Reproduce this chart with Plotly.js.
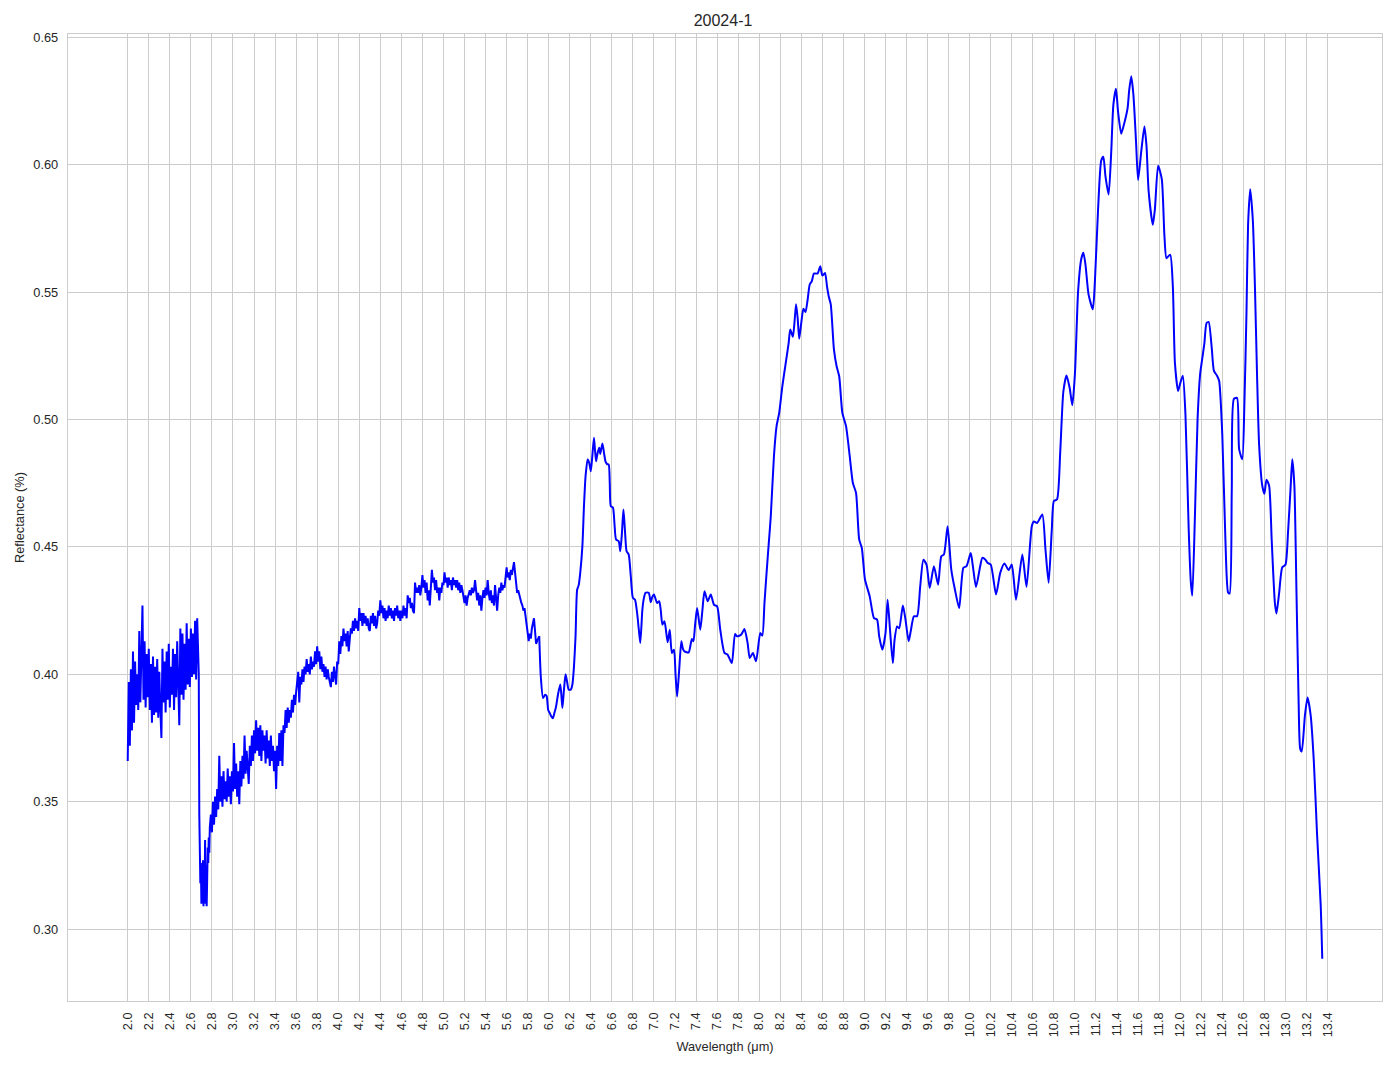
<!DOCTYPE html>
<html>
<head>
<meta charset="utf-8">
<script src="https://cdn.plot.ly/plotly-3.0.1.min.js"></script>
<style>html,body{margin:0;padding:0;background:#fff;}#chart{width:1394px;height:1069px;}</style>
</head>
<body>
<div id="chart"></div>
<script>
// Segment A: 2.00 - 2.67 µm (noisy)
var wlA = [2.00,2.01,2.02,2.03,2.04,2.05,2.06,2.07,2.08,2.09,2.10,2.11,2.12,2.13,2.14,2.15,2.16,2.17,2.18,2.19,
2.20,2.21,2.22,2.23,2.24,2.25,2.26,2.27,2.28,2.29,2.30,2.31,2.32,2.33,2.34,2.35,2.36,2.37,2.38,2.39,
2.40,2.41,2.42,2.43,2.44,2.45,2.46,2.47,2.48,2.49,2.50,2.51,2.52,2.53,2.54,2.55,2.56,2.57,2.58,2.59,
2.60,2.61,2.62,2.63,2.64,2.65,2.66,2.67];
var reflA = [0.366,0.397,0.372,0.402,0.378,0.409,0.381,0.405,0.388,0.400,0.386,0.417,0.389,0.411,0.427,0.390,0.413,0.387,0.408,0.391,
0.410,0.386,0.404,0.381,0.407,0.384,0.403,0.385,0.406,0.383,0.401,0.386,0.375,0.410,0.389,0.405,0.385,0.409,0.390,0.412,
0.387,0.403,0.392,0.410,0.386,0.408,0.391,0.413,0.393,0.380,0.418,0.392,0.416,0.390,0.412,0.394,0.420,0.396,0.414,0.395,
0.418,0.399,0.416,0.400,0.421,0.398,0.422,0.408];

// Segment B: 2.675 - 2.78 µm (sharp drop)
var wlB = [2.675,2.680,2.685,2.690,2.695,2.700,2.705,2.710,2.715,2.720,2.725,2.730,2.735,2.740,2.745,2.750,2.755,2.760,2.765,2.770,2.775,2.780];
var reflB = [0.400,0.345,0.327,0.318,0.326,0.310,0.325,0.312,0.327,0.309,0.322,0.311,0.335,0.310,0.325,0.309,0.320,0.332,0.326,0.336,0.330,0.340];

// Segment C: 2.79 - 3.60 µm (noisy recovery)
var wlC = [2.79,2.80,2.81,2.82,2.83,2.84,2.85,2.86,2.87,2.88,2.89,2.90,2.91,2.92,2.93,2.94,2.95,2.96,2.97,2.98,2.99,
3.00,3.01,3.02,3.03,3.04,3.05,3.06,3.07,3.08,3.09,3.10,3.11,3.12,3.13,3.14,3.15,3.16,3.17,3.18,3.19,
3.20,3.21,3.22,3.23,3.24,3.25,3.26,3.27,3.28,3.29,3.30,3.31,3.32,3.33,3.34,3.35,3.36,3.37,3.38,3.39,
3.40,3.41,3.42,3.43,3.44,3.45,3.46,3.47,3.48,3.49,3.50,3.51,3.52,3.53,3.54,3.55,3.56,3.57,3.58,3.59,3.60];
var reflC = [0.345,0.338,0.350,0.341,0.352,0.344,0.355,0.347,0.368,0.350,0.360,0.348,0.362,0.351,0.358,0.350,0.363,0.352,0.360,0.349,0.362,
0.354,0.373,0.355,0.365,0.352,0.362,0.349,0.366,0.356,0.368,0.359,0.376,0.361,0.370,0.362,0.357,0.372,0.364,0.376,0.366,
0.378,0.369,0.382,0.370,0.379,0.368,0.380,0.366,0.378,0.370,0.376,0.365,0.378,0.367,0.374,0.364,0.376,0.366,0.372,0.362,
0.370,0.355,0.372,0.364,0.377,0.366,0.378,0.364,0.380,0.377,0.386,0.379,0.387,0.381,0.386,0.383,0.390,0.385,0.392,0.388,0.393];

// Segment D: 3.61 - 4.80 µm
var wlD = [3.61,3.62,3.63,3.64,3.65,3.66,3.67,3.68,3.69,3.70,3.71,3.72,3.73,3.74,3.75,3.76,3.77,3.78,3.79,3.80,
3.81,3.82,3.83,3.84,3.85,3.86,3.87,3.88,3.89,3.90,3.91,3.92,3.93,3.94,3.95,3.96,3.97,3.98,3.99,4.00,
4.01,4.02,4.03,4.04,4.05,4.06,4.07,4.08,4.09,4.10,4.11,4.12,4.13,4.14,4.15,4.16,4.17,4.18,4.19,4.20,
4.21,4.22,4.23,4.24,4.25,4.26,4.27,4.28,4.29,4.30,4.31,4.32,4.33,4.34,4.35,4.36,4.37,4.38,4.39,4.40,
4.41,4.42,4.43,4.44,4.45,4.46,4.47,4.48,4.49,4.50,4.51,4.52,4.53,4.54,4.55,4.56,4.57,4.58,4.59,4.60,
4.61,4.62,4.63,4.64,4.65,4.66,4.67,4.68,4.69,4.70,4.71,4.72,4.73,4.74,4.75,4.76,4.77,4.78,4.79,4.80];
var reflD = [0.396,0.401,0.389,0.399,0.396,0.402,0.397,0.403,0.400,0.406,0.401,0.404,0.400,0.407,0.402,0.405,0.403,0.409,0.404,0.411,
0.405,0.409,0.402,0.407,0.401,0.404,0.399,0.403,0.398,0.402,0.399,0.397,0.395,0.401,0.397,0.403,0.398,0.396,0.405,0.404,
0.413,0.408,0.415,0.411,0.418,0.413,0.416,0.411,0.417,0.409,0.414,0.418,0.416,0.421,0.417,0.422,0.418,0.421,0.417,0.426,
0.421,0.424,0.419,0.424,0.420,0.423,0.419,0.422,0.418,0.417,0.423,0.420,0.424,0.419,0.423,0.418,0.420,0.425,0.423,0.429,
0.424,0.427,0.422,0.426,0.421,0.425,0.422,0.427,0.423,0.426,0.422,0.425,0.421,0.426,0.423,0.427,0.422,0.425,0.421,0.425,
0.422,0.427,0.423,0.426,0.422,0.431,0.428,0.430,0.426,0.428,0.425,0.424,0.436,0.432,0.434,0.432,0.435,0.431,0.434,0.439];

// Segment E: 4.81 - 5.91 µm
var wlE = [4.81,4.82,4.83,4.84,4.85,4.86,4.87,4.88,4.89,4.90,4.91,4.92,4.93,4.94,4.95,4.96,4.97,4.98,4.99,5.00,
5.01,5.02,5.03,5.04,5.05,5.06,5.07,5.08,5.09,5.10,5.11,5.12,5.13,5.14,5.15,5.16,5.17,5.18,5.19,5.20,
5.21,5.22,5.23,5.24,5.25,5.26,5.27,5.28,5.29,5.30,5.31,5.32,5.33,5.34,5.35,5.36,5.37,5.38,5.39,5.40,
5.41,5.42,5.43,5.44,5.45,5.46,5.47,5.48,5.49,5.50,5.51,5.52,5.53,5.54,5.55,5.56,5.57,5.58,5.59,5.60,
5.61,5.62,5.63,5.64,5.65,5.66,5.67,5.68,5.69,5.70,5.71,5.72,5.73,5.74,5.75,5.76,5.77,5.78,5.79,5.80,
5.81,5.82,5.83,5.84,5.85,5.86,5.87,5.88,5.89,5.90,5.91];
var reflE = [0.434,0.437,0.432,0.436,0.429,0.433,0.427,0.434,0.441,0.436,0.438,0.433,0.437,0.432,0.434,0.429,0.434,0.432,0.436,0.435,
0.440,0.436,0.438,0.434,0.438,0.435,0.437,0.433,0.438,0.435,0.437,0.434,0.437,0.433,0.436,0.432,0.435,0.433,0.430,0.428,
0.431,0.427,0.430,0.432,0.433,0.431,0.434,0.432,0.433,0.437,0.432,0.429,0.432,0.427,0.431,0.425,0.430,0.433,0.430,0.434,
0.431,0.437,0.432,0.429,0.433,0.428,0.431,0.427,0.435,0.430,0.425,0.431,0.434,0.432,0.436,0.433,0.435,0.434,0.438,0.442,
0.438,0.440,0.437,0.441,0.439,0.442,0.444,0.440,0.434,0.432,0.433,0.431,0.430,0.428,0.427,0.425,0.426,0.423,0.420,0.418,
0.413,0.416,0.414,0.418,0.421,0.422,0.417,0.412,0.413,0.414,0.415];

// Segment F: 5.925 - 13.35 µm (smooth)
var wlF = [5.925,5.946,5.965,5.98,5.995,6.01,6.025,6.04,6.055,6.07,6.09,6.11,6.12,6.13,6.145,6.16,6.175,6.19,6.21,6.225,
6.24,6.255,6.27,6.285,6.30,6.32,6.335,6.35,6.37,6.385,6.40,6.415,6.43,6.44,6.45,6.465,6.48,6.49,6.51,6.525,
6.54,6.555,6.57,6.58,6.59,6.61,6.625,6.64,6.665,6.68,6.695,6.71,6.725,6.74,6.76,6.78,6.80,6.82,6.84,6.855,
6.87,6.89,6.905,6.92,6.95,6.97,6.985,7.00,7.03,7.05,7.065,7.08,7.10,7.13,7.15,7.17,7.19,7.205,7.22,7.24,
7.26,7.275,7.29,7.33,7.36,7.375,7.39,7.41,7.44,7.46,7.48,7.51,7.54,7.57,7.60,7.63,7.67,7.70,7.74,7.77,
7.79,7.83,7.86,7.89,7.91,7.94,7.97,8.01,8.03,8.05,8.07,8.09,8.11,8.14,8.165,8.19,8.22,8.25,8.28,8.295,
8.32,8.335,8.35,8.365,8.38,8.40,8.42,8.44,8.46,8.48,8.50,8.52,8.555,8.58,8.60,8.625,8.645,8.66,8.68,8.71,
8.735,8.76,8.79,8.825,8.86,8.89,8.92,8.95,8.975,9.005,9.05,9.09,9.12,9.14,9.17,9.20,9.22,9.245,9.27,9.286,
9.31,9.33,9.365,9.39,9.42,9.44,9.47,9.50,9.53,9.56,9.59,9.62,9.66,9.70,9.73,9.755,9.79,9.825,9.86,9.90,
9.94,9.97,10.01,10.03,10.06,10.10,10.12,10.15,10.17,10.20,10.25,10.29,10.33,10.37,10.40,10.44,10.50,10.54,10.59,10.61,
10.64,10.69,10.72,10.75,10.78,10.80,10.83,10.86,10.89,10.92,10.95,10.975,11.00,11.03,11.06,11.08,11.10,11.13,11.17,11.19,
11.22,11.25,11.27,11.29,11.32,11.345,11.365,11.39,11.41,11.44,11.47,11.50,11.515,11.535,11.555,11.58,11.60,11.63,11.66,11.68,
11.70,11.74,11.76,11.79,11.825,11.85,11.87,11.905,11.93,11.95,11.98,12.00,12.025,12.05,12.08,12.10,12.115,12.14,12.165,12.19,
12.21,12.23,12.25,12.27,12.30,12.32,12.35,12.37,12.40,12.43,12.455,12.47,12.49,12.51,12.54,12.56,12.59,12.61,12.63,12.645,
12.665,12.69,12.71,12.73,12.75,12.78,12.80,12.82,12.845,12.87,12.90,12.915,12.94,12.97,13.00,13.025,13.05,13.065,13.085,13.105,
13.125,13.14,13.155,13.185,13.21,13.24,13.27,13.30,13.335,13.35];
var reflF = [0.399,0.3907,0.392,0.3915,0.386,0.3848,0.3835,0.3828,0.385,0.3874,0.3925,0.396,0.392,0.3868,0.394,0.400,0.397,0.394,0.394,0.396,
0.403,0.415,0.4332,0.435,0.440,0.4503,0.466,0.4777,0.4843,0.483,0.4797,0.486,0.4928,0.488,0.4836,0.487,0.4889,0.4865,0.4906,0.487,
0.4835,0.4825,0.4823,0.475,0.466,0.4655,0.459,0.4529,0.4522,0.4483,0.455,0.4647,0.456,0.4483,0.447,0.4385,0.430,0.4293,0.4241,0.418,
0.4123,0.4254,0.430,0.432,0.432,0.4283,0.4305,0.4313,0.428,0.4287,0.425,0.4195,0.4208,0.4126,0.4175,0.4084,0.4097,0.400,0.3913,0.402,
0.413,0.410,0.409,0.4086,0.4139,0.413,0.419,0.426,0.4175,0.425,0.4326,0.4287,0.4313,0.4273,0.4267,0.4175,0.4084,0.4077,0.4044,0.4158,
0.4149,0.4156,0.4178,0.4122,0.4064,0.4084,0.4051,0.4162,0.4152,0.428,0.4398,0.451,0.462,0.4856,0.4974,0.5026,0.5131,0.5216,0.5301,0.5353,
0.5325,0.538,0.5452,0.540,0.5317,0.538,0.5435,0.5422,0.547,0.553,0.5543,0.5573,0.5573,0.5602,0.5565,0.5575,0.552,0.5484,0.5452,0.5275,
0.521,0.517,0.5026,0.4974,0.4856,0.4751,0.4712,0.4529,0.4496,0.4372,0.4306,0.4221,0.4215,0.4149,0.4097,0.4162,0.4293,0.4162,0.4044,0.4135,
0.4188,0.4181,0.427,0.4215,0.413,0.417,0.4228,0.4228,0.4346,0.445,0.443,0.4339,0.4424,0.4352,0.4463,0.4470,0.4581,0.4411,0.4332,0.426,
0.4418,0.4425,0.4476,0.4425,0.4343,0.4425,0.4457,0.445,0.4437,0.4431,0.4313,0.4398,0.4435,0.4409,0.4431,0.4293,0.447,0.4343,0.4581,0.460,
0.4594,0.4627,0.449,0.4359,0.4568,0.468,0.4687,0.4871,0.511,0.5173,0.5124,0.5056,0.518,0.5503,0.563,0.5655,0.5608,0.5489,0.5433,0.5545,
0.5827,0.6017,0.6031,0.5954,0.5883,0.6052,0.6235,0.6298,0.6207,0.6122,0.6165,0.6221,0.6291,0.6347,0.6277,0.6094,0.594,0.6052,0.615,0.6073,
0.5897,0.5764,0.5827,0.5996,0.5944,0.5723,0.5633,0.5647,0.5524,0.5222,0.5112,0.5142,0.5172,0.502,0.4579,0.4369,0.4309,0.462,0.500,0.518,
0.524,0.530,0.5378,0.5383,0.528,0.5192,0.5172,0.5152,0.494,0.4522,0.4321,0.4317,0.472,0.5081,0.5085,0.4884,0.4844,0.5061,0.5423,0.5764,
0.5904,0.5784,0.5524,0.518,0.490,0.474,0.4709,0.4764,0.474,0.4522,0.4279,0.4239,0.4319,0.442,0.443,0.456,0.474,0.4844,0.474,0.4319,
0.3899,0.3708,0.3697,0.3838,0.3909,0.3838,0.3657,0.3376,0.3095,0.2884];

var xTickVals = [2.0,2.2,2.4,2.6,2.8,3.0,3.2,3.4,3.6,3.8,4.0,4.2,4.4,4.6,4.8,5.0,5.2,5.4,5.6,5.8,6.0,6.2,6.4,6.6,6.8,7.0,7.2,7.4,7.6,7.8,
8.0,8.2,8.4,8.6,8.8,9.0,9.2,9.4,9.6,9.8,10.0,10.2,10.4,10.6,10.8,11.0,11.2,11.4,11.6,11.8,12.0,12.2,12.4,12.6,12.8,13.0,13.2,13.4];
var yTickVals = [0.30,0.35,0.40,0.45,0.50,0.55,0.60,0.65];

// noisy part drawn with straight segments, smooth part with a spline (joined at 5.91 µm)
var noisyX = [].concat(wlA, wlB, wlC, wlD, wlE);
var noisyY = [].concat(reflA, reflB, reflC, reflD, reflE);
var smoothX = [wlE[wlE.length - 1]].concat(wlF);
var smoothY = [reflE[reflE.length - 1]].concat(reflF);

var FONT = 'Liberation Sans, Arial, Helvetica, sans-serif';
var TXT = '#262626';
var TICK = 12.8;

var traces = [
  {x: noisyX, y: noisyY, type: 'scatter', mode: 'lines', line: {color: '#0000ff', width: 2}},
  {x: smoothX, y: smoothY, type: 'scatter', mode: 'lines', line: {color: '#0000ff', width: 2, shape: 'spline', smoothing: 0.6}}
];

var layout = {
  width: 1394, height: 1069,
  paper_bgcolor: '#ffffff', plot_bgcolor: '#ffffff',
  margin: {l: 68, r: 12, t: 34, b: 68, pad: 0},
  showlegend: false,
  font: {family: FONT, color: TXT, size: TICK},
  title: {text: '20024-1', font: {family: FONT, size: 16, color: TXT},
          x: 0.4985, xref: 'paper', xanchor: 'center', y: 0.981, yref: 'container', yanchor: 'middle'},
  xaxis: {
    range: [1.4325, 13.9175], tickmode: 'array', tickvals: xTickVals, tickformat: '.1f',
    tickangle: -90, ticks: 'outside', ticklen: 5, tickcolor: 'rgba(0,0,0,0)',
    showgrid: true, gridcolor: '#cccccc', gridwidth: 1, zeroline: false,
    showline: true, linecolor: '#cccccc', linewidth: 1.25, mirror: true,
    tickfont: {family: FONT, size: TICK, color: TXT},
    title: {text: 'Wavelength (μm)', font: {family: FONT, size: TICK, color: TXT}, standoff: 5},
    automargin: false
  },
  yaxis: {
    range: [0.2718, 0.6513], tickmode: 'array', tickvals: yTickVals, tickformat: '.2f',
    ticks: 'outside', ticklen: 6, tickcolor: 'rgba(0,0,0,0)',
    showgrid: true, gridcolor: '#cccccc', gridwidth: 1, zeroline: false,
    showline: true, linecolor: '#cccccc', linewidth: 1.25, mirror: true,
    tickfont: {family: FONT, size: TICK, color: TXT},
    title: {text: 'Reflectance (%)', font: {family: FONT, size: TICK, color: TXT}, standoff: 5},
    automargin: false
  }
};

Plotly.newPlot('chart', traces, layout, {displayModeBar: false, staticPlot: true});
</script>
</body>
</html>
